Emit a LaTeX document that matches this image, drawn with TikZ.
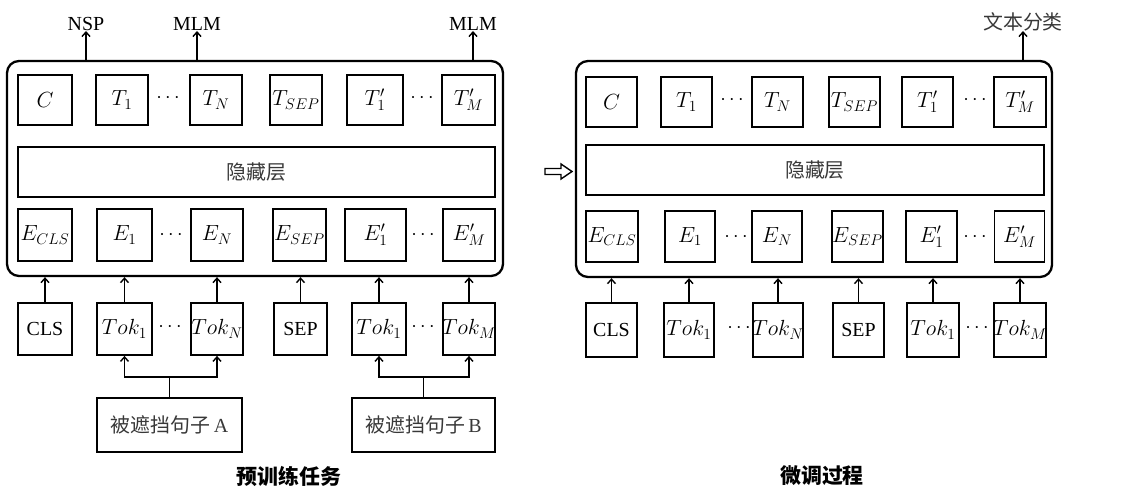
\documentclass[tikz,border=0pt]{standalone}
\usepackage{fix-cm}
\usepackage{fontspec}
\setmainfont{Liberation Serif}
\newfontfamily\cjk{Noto Sans CJK SC}
\DeclareMathSizes{22}{22}{15.5}{12}
\newcommand\mbx[1]{\makebox[0pt]{$#1$}}
\usetikzlibrary{arrows.meta}
\begin{document}
\begin{tikzpicture}[x=1bp,y=-1bp,
  txt/.style={font=\fontsize{20}{24}\selectfont},
  mth/.style={font=\fontsize{22}{26}\selectfont},
  bx/.style={draw, line width=1.8bp, inner sep=0pt, mth},
  big/.style={draw, line width=2.3bp, rounded corners=12bp, inner sep=0pt},
  lab/.style={txt, inner sep=0pt, anchor=south},
  cn/.style={font=\cjk\fontsize{20}{24}\selectfont, text=black!78},
  captxt/.style={font=\cjk\bfseries\fontsize{21}{24}\selectfont},
  arr/.style={line width=1.6bp, -{Straight Barb[length=4.5bp,width=8bp,line width=1.4bp]}},
  ln/.style={line width=1.6bp}]
\useasboundingbox (0,0) rectangle (1122,488);

% ================= LEFT: pre-training =================
\node[big, minimum width=496bp, minimum height=215bp] (L) at (255,168.5) {};
% top row
\node[bx, minimum width=54bp, minimum height=50bp] (lC)  at (45,100)   {\mbx{C}};
\node[bx, minimum width=52bp, minimum height=50bp] (lT1) at (122,100)  {\mbx{T_1}};
\node[txt] (ld1) at (168,98) {$\cdots$};
\node[bx, minimum width=52bp, minimum height=50bp] (lTN) at (216,100)  {\mbx{T_N}};
\node[bx, minimum width=52bp, minimum height=50bp] (lTS) at (296,100)  {\mbx{T_{SEP}}};
\node[bx, minimum width=56bp, minimum height=50bp] (lTp1) at (375,100) {\mbx{T'_1}};
\node[txt] (ld2) at (422,98) {$\cdots$};
\node[bx, minimum width=53bp, minimum height=50bp] (lTpM) at (468.5,100) {\mbx{T'_M}};
% hidden
\node[bx, minimum width=477bp, minimum height=50bp, cn] (lH) at (256.5,172) {隐藏层};
% embedding row
\node[bx, minimum width=54bp, minimum height=52bp] (lEC) at (45,235)   {\mbx{E_{CLS}}};
\node[bx, minimum width=55bp, minimum height=52bp] (lE1) at (124.5,235) {\mbx{E_1}};
\node[txt] (ld3) at (171,235) {$\cdots$};
\node[bx, minimum width=52bp, minimum height=52bp] (lEN) at (217,235)  {\mbx{E_N}};
\node[bx, minimum width=53bp, minimum height=52bp] (lES) at (299.5,235) {\mbx{E_{SEP}}};
\node[bx, minimum width=61bp, minimum height=52bp] (lEp1) at (375.5,235) {\mbx{E'_1}};
\node[txt] (ld4) at (423,235) {$\cdots$};
\node[bx, minimum width=52bp, minimum height=52bp] (lEpM) at (469,235) {\mbx{E'_M}};
% input row
\node[bx, txt, minimum width=54bp, minimum height=52bp] (lCLS) at (45,329)  {CLS};
\node[bx, minimum width=55bp, minimum height=52bp] (lTk1) at (124.5,329) {\mbx{Tok_1}};
\node[txt] (ld5) at (170,327) {$\cdots$};
\node[bx, minimum width=52bp, minimum height=52bp] (lTkN) at (217,329) {\mbx{Tok_N}};
\node[bx, txt, minimum width=53bp, minimum height=52bp] (lSEP) at (300.5,329) {SEP};
\node[bx, minimum width=54bp, minimum height=52bp] (lTkb1) at (379,329) {\mbx{Tok_1}};
\node[txt] (ld6) at (423,327) {$\cdots$};
\node[bx, minimum width=52bp, minimum height=52bp] (lTkM) at (469,329) {\mbx{Tok_M}};
% sentences
\node[bx, minimum width=145bp, minimum height=54bp, cn] (A) at (169.5,425) {被遮挡句子\,\rmfamily A};
\node[bx, minimum width=143bp, minimum height=54bp, cn] (B) at (423.5,425) {被遮挡句子\,\rmfamily B};
% input arrows
\foreach \n in {lCLS,lTk1,lTkN,lSEP,lTkb1,lTkM}
  \draw[arr] (\n.north) -- (\n.north |- L.south);
% branch arrows
\coordinate (Aj) at (A.north |- 0,377);
\coordinate (Bj) at (B.north |- 0,377);
\draw[ln] (A.north) -- (Aj);
\draw[arr] (Aj) -| (lTk1.south);
\draw[arr] (Aj) -| (lTkN.south);
\draw[ln] (B.north) -- (Bj);
\draw[arr] (Bj) -| (lTkb1.south);
\draw[arr] (Bj) -| (lTkM.south);
% outputs
\node[lab] (nsp)  at (86,31)  {NSP};
\node[lab] (mlm1) at (197,31) {MLM};
\node[lab] (mlm2) at (473,31) {MLM};
\foreach \n in {nsp,mlm1,mlm2}
  \draw[arr] (\n.south |- L.north) -- (\n.south);
\node[captxt] (capL) at (289,476) {预训练任务};

% ================= transition arrow =================
\draw[line width=1.4bp, line join=miter] (545,168.5) -- (561,168.5) -- (561,164) -- (572,171.5) -- (561,179) -- (561,174.5) -- (545,174.5) -- cycle;

% ================= RIGHT: fine-tuning =================
\node[big, minimum width=476bp, minimum height=216bp] (R) at (814,169) {};
\node[bx, minimum width=51bp, minimum height=50bp] (rC)  at (611.5,102) {\mbx{C}};
\node[bx, minimum width=51bp, minimum height=50bp] (rT1) at (686.5,102) {\mbx{T_1}};
\node[txt] (rd1) at (732,100) {$\cdots$};
\node[bx, minimum width=51bp, minimum height=50bp] (rTN) at (777.5,102) {\mbx{T_N}};
\node[bx, minimum width=51bp, minimum height=50bp] (rTS) at (854.5,102) {\mbx{T_{SEP}}};
\node[bx, minimum width=51bp, minimum height=50bp] (rTp1) at (927.5,102) {\mbx{T'_1}};
\node[txt] (rd2) at (975,100) {$\cdots$};
\node[bx, minimum width=52bp, minimum height=50bp] (rTpM) at (1020,102) {\mbx{T'_M}};
\node[bx, minimum width=458bp, minimum height=50bp, cn] (rH) at (815,170) {隐藏层};
\node[bx, minimum width=52bp, minimum height=51bp] (rEC) at (612,236.5) {\mbx{E_{CLS}}};
\node[bx, minimum width=50bp, minimum height=51bp] (rE1) at (690,236.5) {\mbx{E_1}};
\node[txt] (rd3) at (736,237) {$\cdots$};
\node[bx, minimum width=50bp, minimum height=51bp] (rEN) at (777,236.5) {\mbx{E_N}};
\node[bx, minimum width=51bp, minimum height=51bp] (rES) at (857.5,236.5) {\mbx{E_{SEP}}};
\node[bx, minimum width=51bp, minimum height=51bp] (rEp1) at (931.5,236.5) {\mbx{E'_1}};
\node[txt] (rd4) at (975,237) {$\cdots$};
\node[bx, minimum width=50bp, minimum height=51bp] (rEpM) at (1019.5,236.5) {\mbx{E'_M}};
\node[bx, txt, minimum width=51bp, minimum height=54bp] (rCLS) at (611.5,330) {CLS};
\node[bx, minimum width=50bp, minimum height=54bp] (rTk1) at (689,330) {\mbx{Tok_1}};
\node[txt] (rd5) at (739,328) {$\cdots$};
\node[bx, minimum width=50bp, minimum height=54bp] (rTkN) at (778,330) {\mbx{Tok_N}};
\node[bx, txt, minimum width=51bp, minimum height=54bp] (rSEP) at (858.5,330) {SEP};
\node[bx, minimum width=52bp, minimum height=54bp] (rTkb1) at (933,330) {\mbx{Tok_1}};
\node[txt] (rd6) at (977,328) {$\cdots$};
\node[bx, minimum width=52bp, minimum height=54bp] (rTkM) at (1020,330) {\mbx{Tok_M}};
\foreach \n in {rCLS,rTk1,rTkN,rSEP,rTkb1,rTkM}
  \draw[arr] (\n.north) -- (\n.north |- R.south);
\node[lab, cn, inner sep=0pt] (cls) at (1023,31) {文本分类};
\draw[arr] (cls.south |- R.north) -- (cls.south);
\node[captxt] (capR) at (822,476) {微调过程};
\end{tikzpicture}
\end{document}
